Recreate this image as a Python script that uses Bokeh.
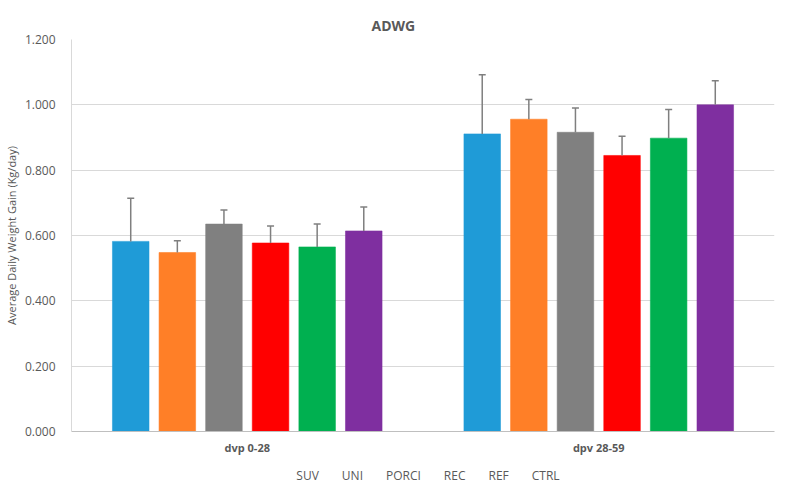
from bokeh.plotting import figure
from bokeh.layouts import column
from bokeh.models import (ColumnDataSource, FactorRange, FixedTicker, NumeralTickFormatter,
                          Legend, LegendItem, Range1d)
from bokeh.transform import dodge
from bokeh.embed import file_html
from bokeh.resources import INLINE

groups = ["dvp 0-28", "dpv 28-59"]
series = ["SUV", "UNI", "PORCI", "REC", "REF", "CTRL"]
colors = ["#1F9BD7", "#FF7F27", "#808080", "#FF0000", "#00B050", "#7F2FA0"]
values = {
    "SUV":   [0.582, 0.911],
    "UNI":   [0.548, 0.956],
    "PORCI": [0.635, 0.916],
    "REC":   [0.577, 0.845],
    "REF":   [0.565, 0.898],
    "CTRL":  [0.614, 1.000],
}
errors = {
    "SUV":   [0.132, 0.181],
    "UNI":   [0.036, 0.060],
    "PORCI": [0.043, 0.074],
    "REC":   [0.052, 0.059],
    "REF":   [0.070, 0.088],
    "CTRL":  [0.073, 0.074],
}
y_ticks = [0.0, 0.2, 0.4, 0.6, 0.8, 1.0, 1.2]

FONT = "Open Sans"
TXT = "#595959"

p = figure(x_range=FactorRange(*groups, range_padding=0), y_range=Range1d(0, 1.2),
           width=776, height=463,
           output_backend="svg", toolbar_location=None,
           min_border_left=65, min_border_right=2, min_border_top=39, min_border_bottom=32,
           title="ADWG", outline_line_color=None)
p.title.align = "left"
p.title.offset = 300
p.title.text_font = FONT
p.title.text_font_size = "14px"
p.title.text_font_style = "bold"
p.title.text_color = TXT

step = 0.1326
width = 0.104
for i, s in enumerate(series):
    off = (i - 2.5) * step
    src = ColumnDataSource(dict(g=groups, v=values[s],
                                top=[v + e for v, e in zip(values[s], errors[s])]))
    p.vbar(x=dodge("g", off, range=p.x_range), top="v", width=width, source=src,
           fill_color=colors[i], line_color=colors[i], line_alpha=0.55, line_width=1)
    p.segment(x0=dodge("g", off, range=p.x_range), x1=dodge("g", off, range=p.x_range),
              y0="v", y1="top", source=src, line_color="#7F7F7F", line_width=1.5)
    p.scatter(x=dodge("g", off, range=p.x_range), y="top", marker="dash", size=7,
              source=src, line_color="#7F7F7F", line_width=1.5)

p.yaxis.ticker = FixedTicker(ticks=y_ticks)
p.yaxis.formatter = NumeralTickFormatter(format="0.000")
p.yaxis.axis_label = "Average Daily Weight Gain (Kg/day)"
p.yaxis.axis_label_text_font = FONT
p.yaxis.axis_label_text_font_size = "11px"
p.yaxis.axis_label_text_font_style = "normal"
p.yaxis.axis_label_text_color = TXT
p.yaxis.axis_label_standoff = 3
p.yaxis.major_label_text_font = FONT
p.yaxis.major_label_text_font_size = "12px"
p.yaxis.major_label_text_color = TXT
p.yaxis.major_tick_line_color = None
p.yaxis.minor_tick_line_color = None
p.yaxis.axis_line_color = "#D9D9D9"
p.yaxis.major_label_standoff = 10

p.xaxis.major_label_text_font = FONT
p.xaxis.major_label_text_font_size = "11px"
p.xaxis.major_label_text_font_style = "bold"
p.xaxis.major_label_text_color = TXT
p.xaxis.major_tick_line_color = None
p.xaxis.major_tick_out = 0
p.xaxis.axis_label_standoff = 0
p.xaxis.axis_line_color = "#BFBFBF"
p.xaxis.major_label_standoff = 8

p.xgrid.grid_line_color = None
p.ygrid.grid_line_color = "#D9D9D9"

# legend strip below the chart
lf = figure(width=776, height=24, x_range=Range1d(0, 1), y_range=Range1d(0, 1),
            x_axis_type=None, y_axis_type=None, output_backend="svg",
            toolbar_location=None, outline_line_color=None,
            min_border_left=65, min_border_right=2, min_border_top=0, min_border_bottom=0)
lf.xgrid.grid_line_color = None
lf.ygrid.grid_line_color = None
items = []
for i, s in enumerate(series):
    r = lf.vbar(x="x", top="top", width=0.1, source=ColumnDataSource(dict(x=[], top=[])),
                fill_color=colors[i], line_color=colors[i])
    items.append(LegendItem(label=s, renderers=[r]))
legend = Legend(items=items, orientation="horizontal", location="center",
                label_text_font=FONT, label_text_font_size="12px", label_text_color=TXT,
                glyph_width=8, glyph_height=8, spacing=12, label_standoff=3,
                label_height=12,
                border_line_color=None, background_fill_alpha=0, padding=0, margin=0)
lf.add_layout(legend, "center")

layout = column(p, lf, spacing=0)
open("out.html", "w").write(file_html(layout, INLINE))
